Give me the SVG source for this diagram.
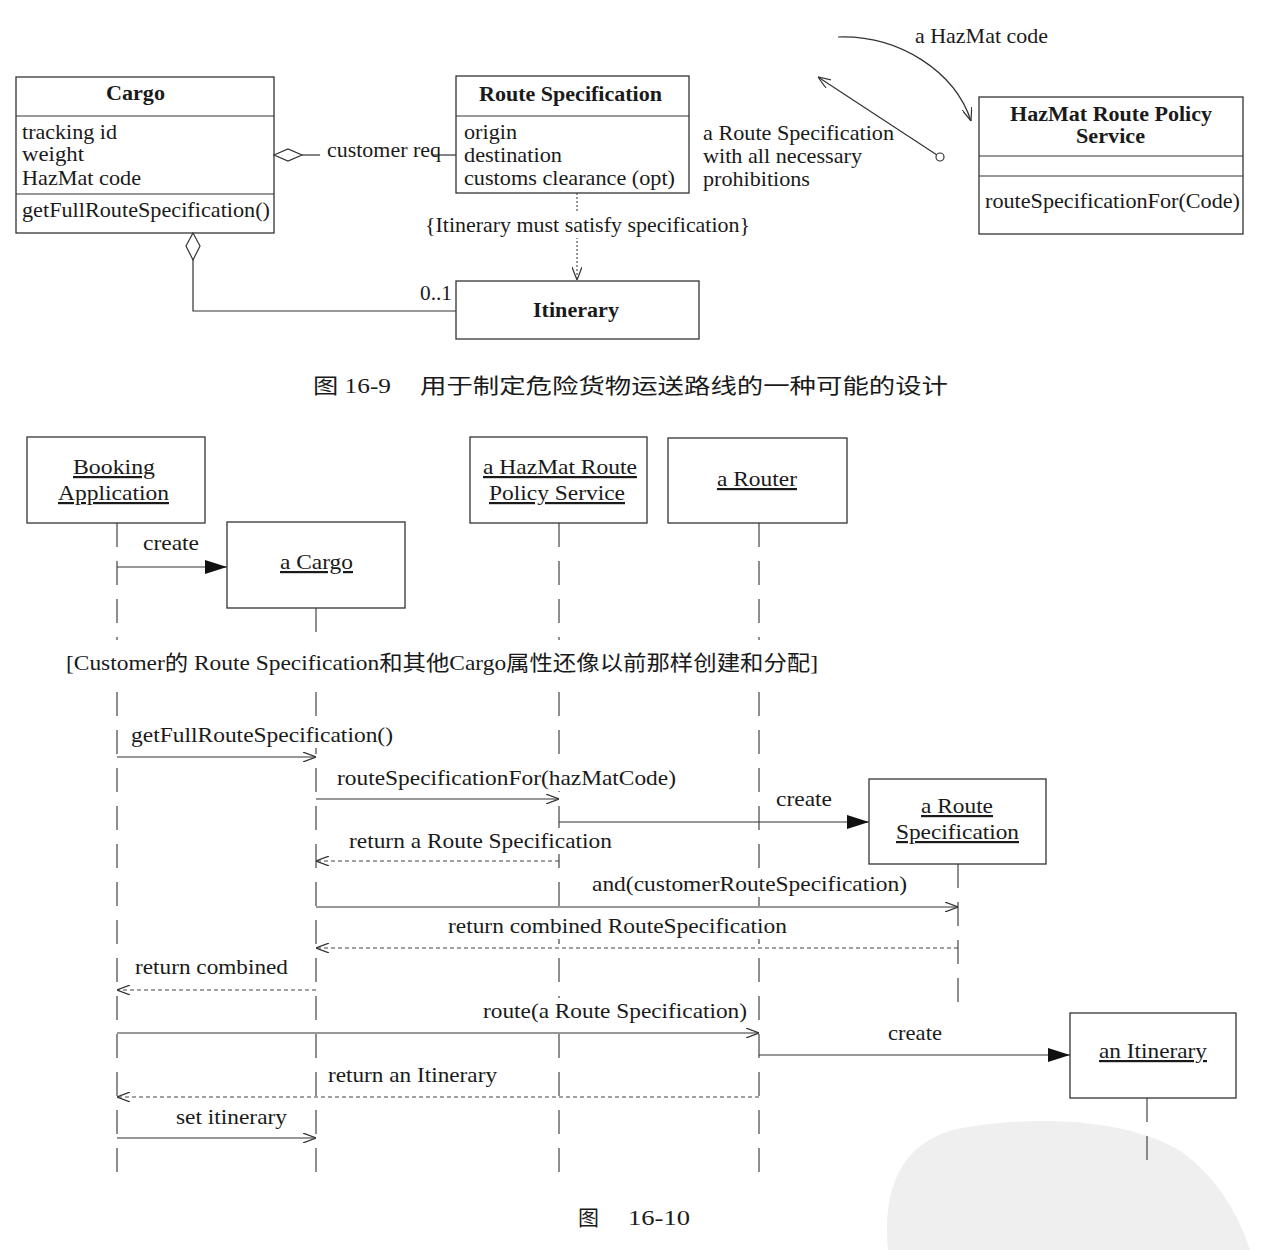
<svg xmlns="http://www.w3.org/2000/svg" width="1284" height="1250" viewBox="0 0 1284 1250">
<style>
text{font-family:"Liberation Serif","Times New Roman",serif;font-size:21px;fill:#1a1a1a}
.b{font-weight:bold;font-size:20px}
.s{font-size:22px}
.u{text-decoration:underline}
.cn{font-family:"Liberation Serif","Noto Sans CJK SC",serif;}
.box{fill:#fff;stroke:#333;stroke-width:1.3}
.bg{fill:#fff}
.ln{fill:none;stroke:#333;stroke-width:1.2}
.life{fill:none;stroke:#444;stroke-width:1.2;stroke-dasharray:24 14}
.dash{fill:none;stroke:#444;stroke-width:1.1;stroke-dasharray:4 3}
.dot{fill:none;stroke:#444;stroke-width:1.1;stroke-dasharray:2 2}
</style>
<defs>
<marker id="open" viewBox="0 0 13 10" refX="13" refY="5" markerWidth="13" markerHeight="10" markerUnits="userSpaceOnUse" orient="auto"><path d="M0,0 L13,5 L0,10" fill="none" stroke="#333" stroke-width="1.2"/></marker>
<marker id="filled" viewBox="0 0 22 14" refX="22" refY="7" markerWidth="22" markerHeight="14" markerUnits="userSpaceOnUse" orient="auto"><path d="M0,0 L22,7 L0,14 Z" fill="#111"/></marker>
</defs>
<rect width="1284" height="1250" fill="#fff"/>
<path d="M888,1250 C882,1190 900,1140 962,1128 C1040,1114 1132,1120 1182,1152 C1222,1182 1240,1220 1250,1250 Z" fill="#efefef"/>

<!-- Class diagram nodes -->
<g id="cargo">
<rect class="box" x="16" y="77" width="258" height="156"/>
<line class="ln" x1="16" y1="116" x2="274" y2="116"/>
<line class="ln" x1="16" y1="194" x2="274" y2="194"/>
<text class="b" x="106" y="100" textLength="59" lengthAdjust="spacingAndGlyphs">Cargo</text>
<text x="22" y="139" textLength="95" lengthAdjust="spacingAndGlyphs">tracking id</text>
<text x="22" y="161" textLength="62" lengthAdjust="spacingAndGlyphs">weight</text>
<text x="22" y="185" textLength="119" lengthAdjust="spacingAndGlyphs">HazMat code</text>
<text x="22" y="217" textLength="248" lengthAdjust="spacingAndGlyphs">getFullRouteSpecification()</text>
</g>
<g id="route-specification">
<rect class="box" x="456" y="76" width="233" height="117"/>
<line class="ln" x1="456" y1="116" x2="689" y2="116"/>
<text class="b" x="479" y="101" textLength="183" lengthAdjust="spacingAndGlyphs">Route Specification</text>
<text x="464" y="139" textLength="53" lengthAdjust="spacingAndGlyphs">origin</text>
<text x="464" y="162" textLength="98" lengthAdjust="spacingAndGlyphs">destination</text>
<text x="464" y="185" textLength="211" lengthAdjust="spacingAndGlyphs">customs clearance (opt)</text>
</g>
<g id="itinerary">
<rect class="box" x="456" y="281" width="243" height="58"/>
<text class="b" x="533" y="317" textLength="86" lengthAdjust="spacingAndGlyphs">Itinerary</text>
</g>
<g id="hazmat-service">
<rect class="box" x="979" y="97" width="264" height="137"/>
<line class="ln" x1="979" y1="156" x2="1243" y2="156"/>
<line class="ln" x1="979" y1="176" x2="1243" y2="176"/>
<text class="b" x="1010" y="121" textLength="202" lengthAdjust="spacingAndGlyphs">HazMat Route Policy</text>
<text class="b" x="1076" y="143" textLength="69" lengthAdjust="spacingAndGlyphs">Service</text>
<text x="985" y="208" textLength="255" lengthAdjust="spacingAndGlyphs">routeSpecificationFor(Code)</text>
</g>

<!-- Class diagram connectors -->
<g id="class-connectors">
<polygon points="274,155 288,149 302,155 288,161" fill="#fff" stroke="#333" stroke-width="1.2"/>
<line class="ln" x1="302" y1="155" x2="320" y2="155"/>
<line class="ln" x1="433" y1="155" x2="456" y2="155"/>
<text x="327" y="157" textLength="114" lengthAdjust="spacingAndGlyphs">customer req</text>
<polygon points="193,233 200,246 193,260 186,246" fill="#fff" stroke="#333" stroke-width="1.2"/>
<polyline class="ln" points="193,260 193,311 456,311"/>
<text x="420" y="300" textLength="32" lengthAdjust="spacingAndGlyphs">0..1</text>
<line class="dot" x1="577" y1="193" x2="577" y2="280" marker-end="url(#open)"/>
<rect class="bg" x="424" y="212" width="328" height="26"/>
<text x="425" y="232" textLength="325" lengthAdjust="spacingAndGlyphs">{Itinerary must satisfy specification}</text>
<path class="ln" d="M838,37 C900,35 955,72 971,121" marker-end="url(#open)"/>
<text x="915" y="43" textLength="133" lengthAdjust="spacingAndGlyphs">a HazMat code</text>
<line class="ln" x1="937" y1="155" x2="818" y2="77" marker-end="url(#open)"/>
<circle cx="940" cy="157" r="4" fill="#fff" stroke="#333" stroke-width="1.2"/>
<text x="703" y="140" textLength="191" lengthAdjust="spacingAndGlyphs">a Route Specification</text>
<text x="703" y="163" textLength="159" lengthAdjust="spacingAndGlyphs">with all necessary</text>
<text x="703" y="186" textLength="107" lengthAdjust="spacingAndGlyphs">prohibitions</text>
</g>

<text class="cn" x="313" y="393" font-size="22" textLength="78" lengthAdjust="spacingAndGlyphs">图 16-9</text>
<text class="cn" x="420" y="393" font-size="22" textLength="528" lengthAdjust="spacingAndGlyphs">用于制定危险货物运送路线的一种可能的设计</text>

<!-- Sequence diagram lifelines and messages -->
<g id="seq-connectors">
<line class="life" x1="117" y1="523" x2="117" y2="640"/>
<line class="life" x1="117" y1="692" x2="117" y2="1172"/>
<line class="life" x1="316" y1="608" x2="316" y2="640"/>
<line class="life" x1="316" y1="692" x2="316" y2="1172"/>
<line class="life" x1="559" y1="523" x2="559" y2="640"/>
<line class="life" x1="559" y1="692" x2="559" y2="1172"/>
<line class="life" x1="759" y1="523" x2="759" y2="640"/>
<line class="life" x1="759" y1="692" x2="759" y2="1172"/>
<line class="life" x1="958" y1="864" x2="958" y2="1012"/>
<line class="life" x1="1147" y1="1098" x2="1147" y2="1166"/>

<rect class="bg" x="129" y="722" width="266" height="26"/>
<rect class="bg" x="335" y="765" width="343" height="26"/>
<rect class="bg" x="347" y="828" width="267" height="26"/>
<rect class="bg" x="590" y="871" width="319" height="26"/>
<rect class="bg" x="446" y="913" width="343" height="26"/>
<rect class="bg" x="481" y="998" width="268" height="26"/>

<text class="s" x="143" y="550" textLength="56" lengthAdjust="spacingAndGlyphs">create</text>
<text class="s" x="131" y="742" textLength="262" lengthAdjust="spacingAndGlyphs">getFullRouteSpecification()</text>
<text class="s" x="337" y="785" textLength="339" lengthAdjust="spacingAndGlyphs">routeSpecificationFor(hazMatCode)</text>
<text class="s" x="776" y="806" textLength="56" lengthAdjust="spacingAndGlyphs">create</text>
<text class="s" x="349" y="848" textLength="263" lengthAdjust="spacingAndGlyphs">return a Route Specification</text>
<text class="s" x="592" y="891" textLength="315" lengthAdjust="spacingAndGlyphs">and(customerRouteSpecification)</text>
<text class="s" x="448" y="933" textLength="339" lengthAdjust="spacingAndGlyphs">return combined RouteSpecification</text>
<text class="s" x="135" y="974" textLength="153" lengthAdjust="spacingAndGlyphs">return combined</text>
<text class="s" x="483" y="1018" textLength="264" lengthAdjust="spacingAndGlyphs">route(a Route Specification)</text>
<text class="s" x="888" y="1040" textLength="54" lengthAdjust="spacingAndGlyphs">create</text>
<text class="s" x="328" y="1082" textLength="169" lengthAdjust="spacingAndGlyphs">return an Itinerary</text>
<text class="s" x="176" y="1124" textLength="111" lengthAdjust="spacingAndGlyphs">set itinerary</text>

<line class="ln" x1="117" y1="567" x2="227" y2="567" marker-end="url(#filled)"/>
<line class="ln" x1="117" y1="757" x2="316" y2="757" marker-end="url(#open)"/>
<line class="ln" x1="316" y1="799" x2="559" y2="799" marker-end="url(#open)"/>
<line class="ln" x1="559" y1="822" x2="869" y2="822" marker-end="url(#filled)"/>
<line class="dash" x1="559" y1="861" x2="316" y2="861" marker-end="url(#open)"/>
<line class="ln" x1="316" y1="907" x2="958" y2="907" marker-end="url(#open)"/>
<line class="dash" x1="958" y1="948" x2="316" y2="948" marker-end="url(#open)"/>
<line class="dash" x1="316" y1="990" x2="117" y2="990" marker-end="url(#open)"/>
<line class="ln" x1="117" y1="1033" x2="759" y2="1033" marker-end="url(#open)"/>
<line class="ln" x1="759" y1="1055" x2="1070" y2="1055" marker-end="url(#filled)"/>
<line class="dash" x1="759" y1="1097" x2="117" y2="1097" marker-end="url(#open)"/>
<line class="ln" x1="117" y1="1138" x2="316" y2="1138" marker-end="url(#open)"/>
</g>

<text class="cn" x="66" y="670" font-size="20" textLength="752" lengthAdjust="spacingAndGlyphs">[Customer的 Route Specification和其他Cargo属性还像以前那样创建和分配]</text>

<!-- Sequence diagram objects -->
<g id="booking-application">
<rect class="box" x="27" y="437" width="178" height="86"/>
<text class="s u" x="73" y="474" textLength="82" lengthAdjust="spacingAndGlyphs">Booking</text>
<text class="s u" x="58" y="500" textLength="111" lengthAdjust="spacingAndGlyphs">Application</text>
</g>
<g id="a-cargo">
<rect class="box" x="227" y="522" width="178" height="86"/>
<text class="s u" x="280" y="569" textLength="73" lengthAdjust="spacingAndGlyphs">a Cargo</text>
</g>
<g id="a-hazmat-service">
<rect class="box" x="470" y="437" width="177" height="86"/>
<text class="s u" x="483" y="474" textLength="154" lengthAdjust="spacingAndGlyphs">a HazMat Route</text>
<text class="s u" x="489" y="500" textLength="136" lengthAdjust="spacingAndGlyphs">Policy Service</text>
</g>
<g id="a-router">
<rect class="box" x="668" y="438" width="179" height="85"/>
<text class="s u" x="717" y="486" textLength="80" lengthAdjust="spacingAndGlyphs">a Router</text>
</g>
<g id="a-route-specification">
<rect class="box" x="869" y="779" width="177" height="85"/>
<text class="s u" x="921" y="813" textLength="72" lengthAdjust="spacingAndGlyphs">a Route</text>
<text class="s u" x="896" y="839" textLength="123" lengthAdjust="spacingAndGlyphs">Specification</text>
</g>
<g id="an-itinerary">
<rect class="box" x="1070" y="1013" width="166" height="85"/>
<text class="s u" x="1099" y="1058" textLength="108" lengthAdjust="spacingAndGlyphs">an Itinerary</text>
</g>

<text class="cn" x="578" y="1225" font-size="22">图</text>
<text x="628" y="1225" font-size="22" textLength="62" lengthAdjust="spacingAndGlyphs">16-10</text>
</svg>
